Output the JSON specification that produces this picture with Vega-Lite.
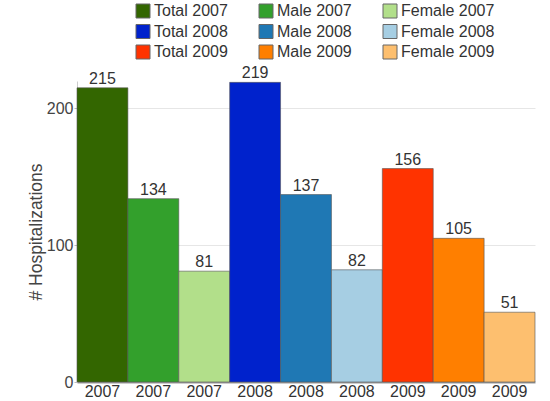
{
  "$schema": "https://vega.github.io/schema/vega-lite/v6.json",
  "width": 458,
  "height": 301,
  "autosize": "none",
  "padding": {"left": 77, "top": 81, "right": 15, "bottom": 19},
  "background": "white",
  "config": {
    "font": "Liberation Sans",
    "view": {"stroke": null}
  },
  "data": {
    "values": [
      {"series": "Total 2007", "year": "2007", "value": 215},
      {"series": "Male 2007", "year": "2007", "value": 134},
      {"series": "Female 2007", "year": "2007", "value": 81},
      {"series": "Total 2008", "year": "2008", "value": 219},
      {"series": "Male 2008", "year": "2008", "value": 137},
      {"series": "Female 2008", "year": "2008", "value": 82},
      {"series": "Total 2009", "year": "2009", "value": 156},
      {"series": "Male 2009", "year": "2009", "value": 105},
      {"series": "Female 2009", "year": "2009", "value": 51}
    ]
  },
  "encoding": {
    "x": {
      "field": "series",
      "type": "nominal",
      "sort": null,
      "scale": {"paddingInner": 0, "paddingOuter": 0},
      "axis": {
        "title": null,
        "labelAngle": 0,
        "labelExpr": "slice(datum.value, -4)",
        "labelFont": "Liberation Sans",
        "labelFontSize": 16,
        "labelColor": "#333",
        "labelPadding": 1,
        "ticks": false,
        "domainColor": "#999",
        "domainWidth": 2
      }
    },
    "y": {
      "field": "value",
      "type": "quantitative",
      "scale": {"domain": [0, 220], "nice": false},
      "axis": {
        "title": "# Hospitalizations",
        "titleFont": "Liberation Sans",
        "titleFontSize": 17.5,
        "titleFontWeight": "normal",
        "titleColor": "#444",
        "titlePadding": 1,
        "values": [0, 100, 200],
        "labelFont": "Liberation Sans",
        "labelFontSize": 16,
        "labelColor": "#444",
        "labelPadding": 1,
        "tickSize": 3,
        "tickColor": "#bbb",
        "domainColor": "#ccc",
        "gridColor": "#e6e6e6",
        "gridWidth": 1
      }
    }
  },
  "layer": [
    {
      "mark": {"type": "bar", "stroke": "#555", "strokeWidth": 1, "strokeOpacity": 0.6},
      "encoding": {
        "color": {
          "field": "series",
          "type": "nominal",
          "sort": null,
          "scale": {
            "domain": ["Total 2007", "Total 2008", "Total 2009", "Male 2007", "Male 2008", "Male 2009", "Female 2007", "Female 2008", "Female 2009"],
            "range": ["#336600", "#0022cc", "#ff3300", "#33a02c", "#1f78b4", "#ff7f00", "#b2df8a", "#a6cee3", "#fdbf6f"]
          },
          "legend": {
            "title": null,
            "orient": "none",
            "legendX": 58,
            "legendY": -78,
            "columns": 3,
            "columnPadding": 29,
            "rowPadding": 2.5,
            "symbolType": "square",
            "symbolSize": 196,
            "symbolStrokeColor": "#666",
            "symbolStrokeWidth": 1,
            "symbolOpacity": 1,
            "labelFont": "Liberation Sans",
            "labelFontSize": 16,
            "labelColor": "#333",
            "labelOffset": 3
          }
        }
      }
    },
    {
      "mark": {"type": "text", "dy": -9, "font": "Liberation Sans", "fontSize": 16, "color": "#333"},
      "encoding": {
        "text": {"field": "value", "type": "quantitative"}
      }
    }
  ]
}
